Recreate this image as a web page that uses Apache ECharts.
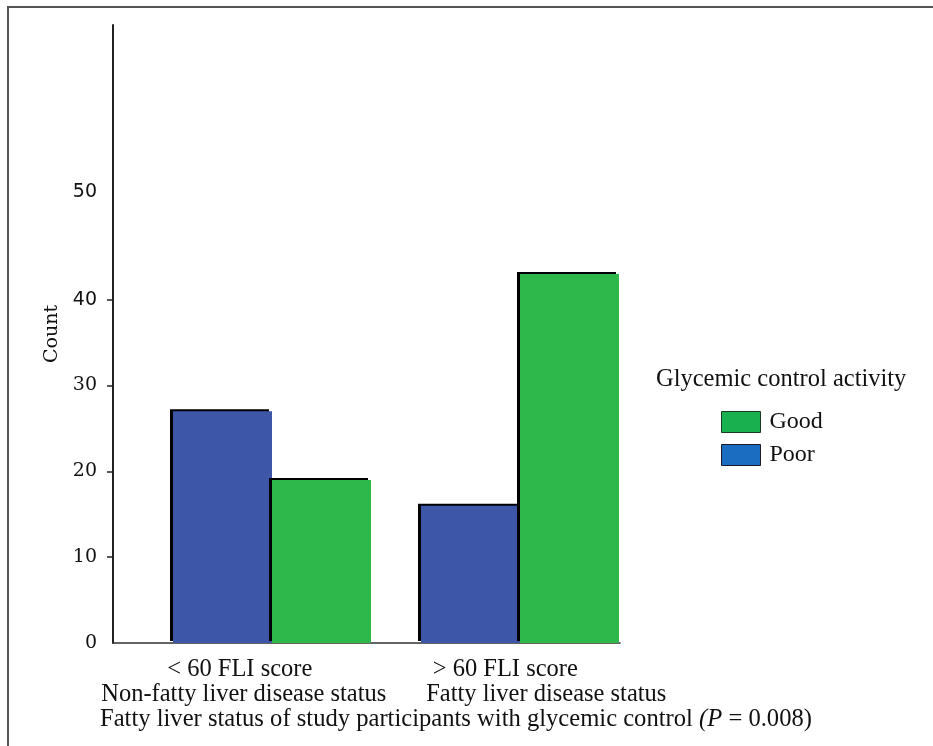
<!DOCTYPE html>
<html>
<head>
<meta charset="utf-8">
<script src="https://cdn.jsdelivr.net/npm/echarts@6/dist/echarts.min.js"></script>
<style>
html,body{margin:0;padding:0;background:#fff;}
#wrap{position:relative;width:933px;height:746px;}
#chart{position:absolute;left:0;top:0;width:933px;height:746px;}
#frame{position:absolute;left:7px;top:6px;width:940px;height:760px;border-top:2px solid #555;border-left:2px solid #555;pointer-events:none;}
</style>
</head>
<body>
<div id="wrap"><div id="chart"></div><div id="frame"></div></div>
<script>
var categoriesTop = ["< 60 FLI score", "> 60 FLI score"];
var categoriesBottom = ["Non-fatty liver disease status", "Fatty liver disease status"];
var poorValues = [27, 16];
var goodValues = [19, 43];
var yLabelValues = [0, 10, 20, 30, 40, 50];
var yTickValues = [10, 20, 30, 40];
var seriesNames = ["Good", "Poor"];

var serif = "Liberation Serif";
var chart = echarts.init(document.getElementById('chart'));
var barShadow = {shadowColor:'#000', shadowBlur:0, shadowOffsetX:-3, shadowOffsetY:-2};
var lbl = {fontFamily:serif, fontSize:24.5, fontWeight:'normal', color:'#111', lineHeight:25};

chart.setOption({
  animation:false,
  backgroundColor:'#fff',
  title:[
    {text:'Glycemic control activity', left:656, top:367, padding:0,
     textStyle:{fontFamily:serif, fontSize:24.5, fontWeight:'normal', color:'#111'}},
    {text:'{n|Fatty liver status of study participants with glycemic control }{i|(P}{n| = 0.008)}',
     left:100, top:707, padding:0,
     textStyle:{fontWeight:'normal', rich:{
       n:{fontFamily:serif, fontSize:24.6, fontWeight:'normal', color:'#111'},
       i:{fontFamily:serif, fontSize:24.6, fontWeight:'normal', fontStyle:'italic', color:'#111'}
     }}}
  ],
  legend:{
    orient:'vertical', left:721, top:410, padding:0,
    itemWidth:39, itemHeight:21, itemGap:9, icon:'rect',
    textStyle:{fontFamily:serif, fontSize:24, color:'#111', padding:[0,0,0,4]},
    data:[
      {name:'Good', itemStyle:{color:'#19B14F', borderColor:'#1a3a22', borderWidth:1}},
      {name:'Poor', itemStyle:{color:'#1B6DC1', borderColor:'#1a1a2a', borderWidth:1}}
    ]
  },
  grid:[
    {left:113, right:313, top:25, bottom:103},
    {left:148, right:289, top:25, bottom:103}
  ],
  xAxis:[
    {type:'category', gridIndex:0, data:categoriesTop,
     axisLine:{lineStyle:{color:'#333', width:1.5}},
     axisTick:{show:false},
     axisLabel:{margin:14, interval:0,
       formatter:function(v, i){
         return '{a' + i + '|' + categoriesTop[i] + '}\n{b' + i + '|' + categoriesBottom[i] + '}';
       },
       rich:{
         a0:Object.assign({padding:[0,0,0,0]}, lbl),
         b0:Object.assign({padding:[0,0,0,8]}, lbl),
         a1:Object.assign({padding:[0,0,0,24]}, lbl),
         b1:Object.assign({padding:[0,0,0,106]}, lbl)
       }}},
    {type:'category', gridIndex:1, data:categoriesTop, show:false}
  ],
  yAxis:[
    {type:'value', gridIndex:0, min:0, max:72,
     name:'Count', nameLocation:'middle', nameGap:50, nameRotate:90,
     nameTextStyle:{fontFamily:'DejaVu Serif', fontSize:19, color:'#111'},
     axisLine:{show:true, lineStyle:{color:'#222', width:2}},
     axisTick:{show:true, length:6, customValues:yTickValues, lineStyle:{color:'#222', width:1.5}},
     splitLine:{show:false},
     axisLabel:{margin:16, customValues:yLabelValues,
       formatter:function(v){
         if (v === 50) return '{u|' + v + '}';
         if (v === 40) return '{s|' + v + '}';
         return '{r|' + v + '}';
       },
       rich:{
         r:{fontFamily:'DejaVu Serif', fontSize:19, color:'#111'},
         s:{fontFamily:'DejaVu Sans', fontSize:19, color:'#111'},
         u:{fontFamily:'DejaVu Sans', fontSize:19, color:'#111', padding:[0,0,44,0]}
       }}},
    {type:'value', gridIndex:1, min:0, max:72, show:false, splitLine:{show:false}}
  ],
  series:[
    {name:'Poor', type:'bar', xAxisIndex:1, yAxisIndex:1, data:poorValues,
     barWidth:99, barGap:'0%',
     itemStyle:Object.assign({color:'#3E56A8'}, barShadow)},
    {name:'Good', type:'bar', xAxisIndex:1, yAxisIndex:1, data:goodValues,
     barWidth:99, barGap:'0%',
     itemStyle:Object.assign({color:'#2EB84B'}, barShadow)}
  ]
});
</script>
</body>
</html>
